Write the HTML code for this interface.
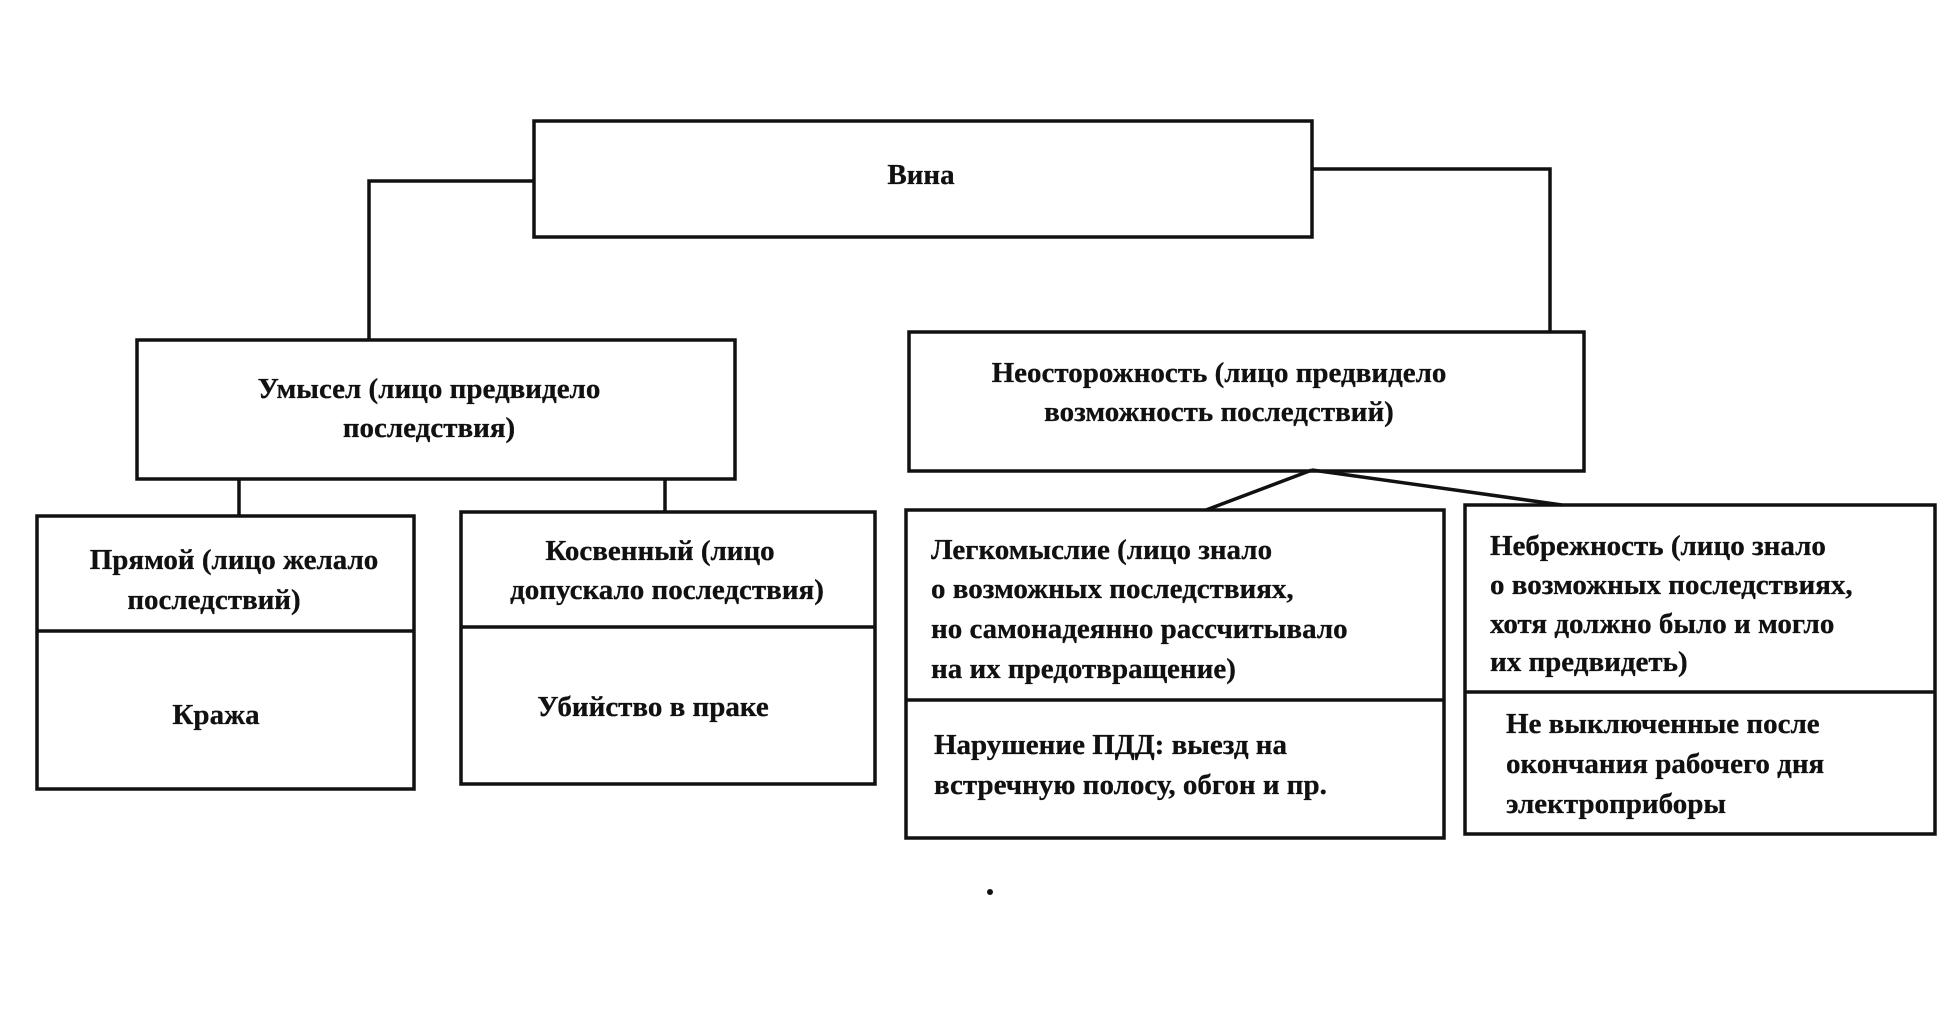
<!DOCTYPE html>
<html><head><meta charset="utf-8"><style>
html,body{margin:0;padding:0;background:#fff;}
svg{display:block;}
text{font-family:"Liberation Serif","DejaVu Serif",serif;font-size:29px;fill:#111;font-weight:bold;stroke:#111;stroke-width:0.3;}
</style></head><body>
<svg width="1960" height="1023" viewBox="0 0 1960 1023" xmlns="http://www.w3.org/2000/svg">
<g fill="none" stroke="#111" stroke-width="3.5">
<rect x="534" y="121" width="778" height="116"/>
<polyline points="534,181 369,181 369,340"/>
<polyline points="1312,169 1550,169 1550,331"/>
<rect x="137" y="340" width="598" height="139"/>
<rect x="909" y="332" width="675" height="139"/>
<line x1="239" y1="479" x2="239" y2="516"/>
<line x1="665" y1="479" x2="665" y2="512"/>
<rect x="37" y="516" width="377" height="273"/>
<line x1="37" y1="631" x2="414" y2="631"/>
<rect x="461" y="512" width="414" height="272"/>
<line x1="461" y1="627" x2="875" y2="627"/>
<line x1="1312" y1="470" x2="1206" y2="510"/>
<line x1="1312" y1="470" x2="1562" y2="505"/>
<rect x="906" y="510" width="538" height="328"/>
<line x1="906" y1="700" x2="1444" y2="700"/>
<rect x="1465" y="505" width="470" height="329"/>
<line x1="1465" y1="692" x2="1935" y2="692"/>
</g>
<circle cx="990" cy="892" r="3" fill="#111"/>
<g dominant-baseline="central">
<text x="921" y="175" text-anchor="middle">Вина</text>
<text x="429" y="389" text-anchor="middle">Умысел (лицо предвидело</text>
<text x="429" y="428" text-anchor="middle">последствия)</text>
<text x="1219" y="373" text-anchor="middle">Неосторожность (лицо предвидело</text>
<text x="1219" y="412" text-anchor="middle">возможность последствий)</text>
<text x="234" y="560" text-anchor="middle">Прямой (лицо желало</text>
<text x="214" y="600" text-anchor="middle">последствий)</text>
<text x="216" y="715" text-anchor="middle">Кража</text>
<text x="660" y="551" text-anchor="middle">Косвенный (лицо</text>
<text x="667" y="590" text-anchor="middle">допускало последствия)</text>
<text x="653" y="707" text-anchor="middle">Убийство в праке</text>
<text x="931" y="550">Легкомыслие (лицо знало</text>
<text x="931" y="589">о возможных последствиях,</text>
<text x="931" y="629">но самонадеянно рассчитывало</text>
<text x="931" y="669">на их предотвращение)</text>
<text x="934" y="745">Нарушение ПДД: выезд на</text>
<text x="934" y="785">встречную полосу, обгон и пр.</text>
<text x="1490" y="546">Небрежность (лицо знало</text>
<text x="1490" y="585">о возможных последствиях,</text>
<text x="1490" y="624">хотя должно было и могло</text>
<text x="1490" y="662">их предвидеть)</text>
<text x="1506" y="724">Не выключенные после</text>
<text x="1506" y="764">окончания рабочего дня</text>
<text x="1506" y="804">электроприборы</text>
</g>
</svg>
</body></html>
